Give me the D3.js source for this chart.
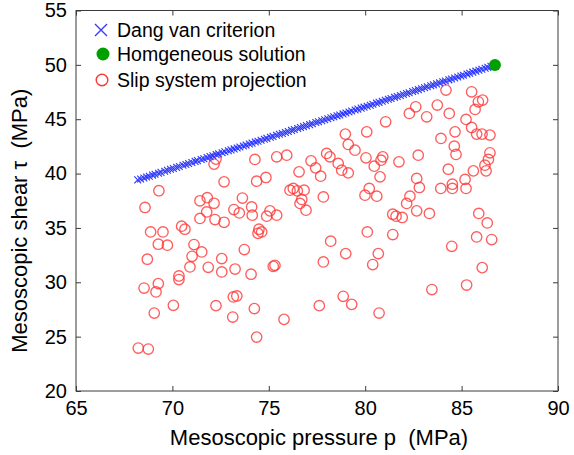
<!DOCTYPE html>
<html><head><meta charset="utf-8">
<script src="https://cdn.jsdelivr.net/npm/d3@7"></script>
<style>body{margin:0;background:#fff}svg{display:block}text{font-family:"Liberation Sans",Arial,sans-serif;white-space:pre}</style>
</head><body><svg id="c" width="574" height="455"></svg>
<script>
const xTicks=[65,70,75,80,85,90];
const yTicks=[20,25,30,35,40,45,50,55];
const legendLabels=["Dang van criterion","Homgeneous solution","Slip system projection"];
const xLabel="Mesoscopic pressure p  (MPa)";
const yLabel="Mesoscopic shear \u03c4  (MPa)";
// Dang van criterion points
const dvP=[68.20,68.35,68.52,68.66,68.80,68.97,69.10,69.28,69.41,69.60,69.74,69.90,70.05,70.22,70.36,70.55,70.70,70.84,71.01,71.18,71.30,71.49,71.63,71.80,71.95,72.10,72.27,72.40,72.58,72.72,72.90,73.04,73.20,73.36,73.50,73.68,73.82,73.99,74.13,74.30,74.44,74.60,74.77,74.90,75.08,75.22,75.40,75.55,75.70,75.86,76.01,76.18,76.32,76.50,76.64,76.80,76.95,77.12,77.26,77.44,77.58,77.75,77.90,78.06,78.22,78.37,78.54,78.68,78.85,79.00,79.16,79.30,79.48,79.62,79.79,79.94,80.10,80.26,80.40,80.58,80.72,80.88,81.04,81.20,81.34,81.52,81.66,81.82,81.98,82.14,82.28,82.46,82.60,82.76,82.92,83.08,83.22,83.40,83.54,83.70,83.86,84.02,84.16,84.34,84.48,84.64,84.80,84.96,85.10,85.28,85.42,85.58,85.74,85.90,86.05,86.22,86.36,86.52,86.66];
const dvT=[39.42,39.50,39.60,39.68,39.76,39.86,39.93,40.03,40.11,40.22,40.30,40.39,40.47,40.57,40.65,40.76,40.84,40.92,41.02,41.12,41.19,41.29,41.37,41.47,41.56,41.64,41.74,41.81,41.92,42.00,42.10,42.18,42.27,42.36,42.44,42.54,42.62,42.72,42.80,42.90,42.98,43.07,43.16,43.24,43.34,43.42,43.52,43.61,43.69,43.78,43.87,43.97,44.05,44.15,44.23,44.32,44.41,44.50,44.58,44.69,44.77,44.86,44.95,45.04,45.13,45.22,45.31,45.39,45.49,45.57,45.67,45.75,45.85,45.93,46.02,46.11,46.20,46.29,46.37,46.48,46.55,46.65,46.74,46.83,46.91,47.01,47.09,47.18,47.27,47.36,47.44,47.55,47.63,47.72,47.81,47.90,47.98,48.08,48.16,48.25,48.34,48.44,48.52,48.62,48.70,48.79,48.88,48.97,49.05,49.15,49.23,49.33,49.42,49.51,49.59,49.69,49.77,49.86,49.94];
// Homogeneous solution
const homP=[86.73];
const homT=[49.98];
// Slip system projection
const slipP=[72.26,72.16,74.28,75.41,72.68,74.37,74.85,69.30,71.43,71.81,72.16,73.63,68.58,71.78,73.19,73.47,74.11,74.14,74.89,75.06,75.41,71.43,72.21,72.68,70.48,70.65,74.63,74.49,74.44,68.87,69.51,69.27,69.74,71.12,71.52,71.02,73.73,68.70,72.56,70.91,71.86,73.25,72.56,75.23,75.32,74.08,70.34,70.34,69.27,69.15,68.53,73.16,73.34,72.26,70.05,69.06,74.25,73.13,74.37,68.23,68.75,
82.62,82.29,83.19,81.06,80.08,78.97,79.12,79.47,75.93,78.00,78.17,80.04,80.91,80.82,81.75,82.75,77.19,78.60,76.57,77.43,77.69,78.78,79.12,80.47,80.77,82.67,82.81,76.27,76.10,76.48,76.83,77.83,80.21,79.99,80.60,82.32,76.62,76.93,82.15,82.67,81.43,81.60,81.92,83.33,80.11,81.43,78.21,78.99,80.68,77.83,80.39,78.86,79.30,77.62,80.72,75.79,83.46,76.71,
84.19,85.52,83.74,85.87,86.09,85.70,84.36,85.23,85.52,84.66,85.78,86.06,86.47,83.93,84.62,84.71,86.47,86.39,86.21,86.27,84.31,85.61,85.18,83.92,84.52,84.52,85.23,85.89,86.33,85.78,86.56,84.49,86.07,85.26];
const slipT=[41.33,40.87,41.30,41.54,39.24,39.30,39.64,38.42,37.50,37.78,37.27,37.75,36.88,36.47,36.69,36.38,36.93,36.17,36.08,36.57,36.17,35.87,35.77,35.52,35.16,34.88,34.63,34.88,34.51,34.63,34.63,33.50,33.41,33.47,32.79,32.39,33.01,32.12,32.18,31.41,31.38,31.22,30.95,31.47,31.56,30.74,30.58,30.25,29.88,29.11,29.47,28.65,28.74,27.85,27.88,27.17,27.58,26.80,24.96,23.95,23.86,
46.14,45.53,45.22,44.76,43.84,43.63,42.68,42.15,41.69,41.85,41.54,41.45,41.54,41.23,41.08,41.69,41.17,40.93,40.16,40.52,39.76,40.31,40.06,40.68,39.70,39.55,38.72,38.63,38.47,38.41,38.47,37.85,38.63,38.01,37.92,37.92,37.25,36.63,37.25,36.57,36.26,36.08,35.96,36.33,34.63,34.39,33.78,32.64,32.64,31.87,31.63,28.71,27.97,27.85,27.17,26.59,29.33,37.62,
47.68,47.52,46.30,46.60,46.76,45.90,45.53,44.98,44.24,43.84,43.63,43.63,43.54,43.23,42.52,41.76,41.91,41.30,40.77,40.25,40.40,40.25,39.46,38.63,39.02,38.63,38.63,36.33,35.46,34.17,33.93,33.31,31.35,29.75];

const W=574,H=455;
const m={l:76,r:558,t:10.5,b:391};
const svg=d3.select("#c");
const x=d3.scaleLinear().domain([65,90]).range([m.l,m.r]);
const y=d3.scaleLinear().domain([20,55]).range([m.b,m.t]);
const axisColor="#3a3a3a";
const tickFont=20;

// frame
svg.append("rect").attr("x",m.l).attr("y",m.t).attr("width",m.r-m.l).attr("height",m.b-m.t)
  .attr("fill","none").attr("stroke",axisColor).attr("stroke-width",1);

function styleAxis(g){g.select(".domain").remove();g.selectAll("line").attr("stroke",axisColor);g.selectAll("text").attr("fill","#000").style("font-size",tickFont+"px");}
svg.append("g").attr("transform",`translate(0,${m.b})`)
  .call(d3.axisBottom(x).tickValues(xTicks).tickSize(-5).tickPadding(10).tickFormat(d3.format("d"))).call(styleAxis)
  .selectAll("text").attr("dy","0.71em");
svg.append("g").attr("transform",`translate(0,${m.t})`)
  .call(d3.axisTop(x).tickValues(xTicks).tickSize(-5).tickFormat("")).call(styleAxis);
svg.append("g").attr("transform",`translate(${m.l},0)`)
  .call(d3.axisLeft(y).tickValues(yTicks).tickSize(-5).tickPadding(9).tickFormat(d3.format("d"))).call(styleAxis);
svg.append("g").attr("transform",`translate(${m.r},0)`)
  .call(d3.axisRight(y).tickValues(yTicks).tickSize(-5).tickFormat("")).call(styleAxis);
svg.selectAll(".tick line").attr("stroke-width",1);

// slip circles
const slip=slipP.map((p,i)=>({p,t:slipT[i]}));
svg.append("g").selectAll("circle").data(slip).join("circle")
  .attr("cx",d=>x(d.p)).attr("cy",d=>y(d.t)).attr("r",5.2)
  .attr("fill","none").attr("stroke","#ff3535").attr("stroke-opacity",0.8).attr("stroke-width",1.35);

// dang van x markers
const dv=dvP.map((p,i)=>({p,t:dvT[i]}));
const xs=3.4;
svg.append("g").selectAll("path").data(dv).join("path")
  .attr("d",d=>{const cx=x(d.p),cy=y(d.t);return `M${cx-xs},${cy-xs}L${cx+xs},${cy+xs}M${cx-xs},${cy+xs}L${cx+xs},${cy-xs}`;})
  .attr("stroke","#2a35ff").attr("stroke-width",1.1).attr("fill","none");

// homogeneous solution
const hom=homP.map((p,i)=>({p,t:homT[i]}));
svg.append("g").selectAll("circle").data(hom).join("circle")
  .attr("cx",d=>x(d.p)).attr("cy",d=>y(d.t)).attr("r",6).attr("fill","#00a000");

// legend
const lg=svg.append("g");
const lx=101, ly=[30,54,80], tx=117;
lg.append("path").attr("d",`M${lx-6},${ly[0]-6}L${lx+6},${ly[0]+6}M${lx-6},${ly[0]+6}L${lx+6},${ly[0]-6}`)
  .attr("stroke","#3a3aff").attr("stroke-width",1.4);
lg.append("circle").attr("cx",lx+2).attr("cy",ly[1]).attr("r",6.5).attr("fill","#00a000");
lg.append("circle").attr("cx",lx+1).attr("cy",ly[2]).attr("r",5.8).attr("fill","none").attr("stroke","#ff3535").attr("stroke-width",1.4);
legendLabels.forEach((s,i)=>lg.append("text").attr("x",tx).attr("y",ly[i]).attr("dy","0.35em")
  .style("font-size","19.5px").attr("fill","#000").text(s));

// axis titles
svg.append("text").attr("x",(m.l+m.r)/2+2).attr("y",445).attr("text-anchor","middle")
  .style("font-size","22px").attr("fill","#000").text(xLabel);
svg.append("text").attr("transform",`translate(27,${(m.t+m.b)/2+20}) rotate(-90)`).attr("text-anchor","middle")
  .style("font-size","22px").attr("fill","#000").text(yLabel);
</script></body></html>
